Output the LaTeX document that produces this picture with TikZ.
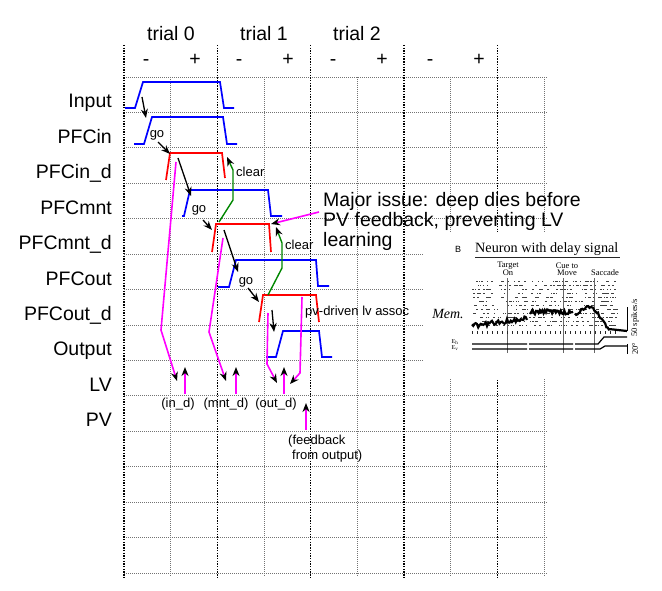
\documentclass[tikz,border=0pt]{standalone}
\usepackage{fontspec}
\setmainfont{Liberation Sans}
\newfontfamily\scanfont{Liberation Serif}
\usetikzlibrary{arrows.meta, positioning, calc}

\definecolor{pulseblue}{RGB}{0,0,255}
\definecolor{pulsered}{RGB}{255,0,0}
\definecolor{cleargreen}{RGB}{0,135,0}
\definecolor{lvpink}{RGB}{255,0,255}

\tikzset{
  rowlabel/.style={anchor=base east, inner sep=0pt, font=\fontsize{19.5}{22}\selectfont},
  headlabel/.style={anchor=base, inner sep=0pt, font=\fontsize{19.5}{22}\selectfont},
  notelabel/.style={inner sep=0pt, font=\fontsize{13}{15}\selectfont},
  trialline/.style={black, line width=1.4pt, dash pattern=on 1.4pt off 1.3pt},
  halfline/.style={black!55, line width=0.9pt, dash pattern=on 1pt off 1pt},
  rowline/.style={black!55, line width=0.9pt, dash pattern=on 1pt off 1pt},
  superficial/.style={pulseblue, line width=1.7pt},
  deep/.style={pulsered, line width=1.7pt},
  goarrow/.style={black, line width=1.3pt, -{Stealth[length=9pt,width=7pt]}},
  clearline/.style={cleargreen, line width=1.4pt, -{Stealth[length=9pt,width=7pt,color=black]}},
  lvline/.style={lvpink, line width=1.6pt, -{Stealth[length=9pt,width=7pt,color=black]}},
  scanline/.style={black!85, line width=0.6pt},
  scanlabel/.style={inner sep=0pt, font=\scanfont\fontsize{8.5}{7.5}\selectfont, align=center},
}

\begin{document}
\begin{tikzpicture}[x=1pt, y=-1pt]
    \useasboundingbox (0,0) rectangle (662,591);

    % Grid of rows and half trials
    \foreach \k in {0,...,14} \draw[rowline] (124,{77+35.43*\k}) -- (548,{77+35.43*\k});
    \foreach \k in {1,3,5,7,9} \draw[halfline] ({124+46.67*\k},77) -- ({124+46.67*\k},576);
    \foreach \k in {0,2,4,6,8} \draw[trialline] ({124+46.67*\k},45) -- ({124+46.67*\k},577);
    \fill[white] (424,232) rectangle (662,378);

    % Trial headers
    \node[headlabel] (trial0) at (171,41) {trial 0};
    \node[headlabel] (trial1) at (264,41) {trial 1};
    \node[headlabel] (trial2) at (357,41) {trial 2};

    \node[headlabel] (minus0) at (146,66) {-};
    \node[headlabel] (plus0) at (195,66) {+};
    \node[headlabel] (minus1) at (239,66) {-};
    \node[headlabel] (plus1) at (288,66) {+};
    \node[headlabel] (minus2) at (333,66) {-};
    \node[headlabel] (plus2) at (382,66) {+};
    \node[headlabel] (minus3) at (430,66) {-};
    \node[headlabel] (plus3) at (479,66) {+};

    % Layer names
    \node[rowlabel] (lblInput) at (112,107.9) {Input};
    \node[rowlabel] (lblPFCin) at (112,143.4) {PFCin};
    \node[rowlabel] (lblPFCind) at (112,178.8) {PFCin\_d};
    \node[rowlabel] (lblPFCmnt) at (112,214.2) {PFCmnt};
    \node[rowlabel] (lblPFCmntd) at (112,249.6) {PFCmnt\_d};
    \node[rowlabel] (lblPFCout) at (112,285.1) {PFCout};
    \node[rowlabel] (lblPFCoutd) at (112,320.5) {PFCout\_d};
    \node[rowlabel] (lblOutput) at (112,355.9) {Output};
    \node[rowlabel] (lblLV) at (112,391.4) {LV};
    \node[rowlabel] (lblPV) at (112,426.8) {PV};

    % Activity pulses
    \draw[superficial] (125,108) -- (135,108) -- (143,82) -- (220,82) -- (224,108) -- (234,108);
    \draw[superficial] (134,144) -- (144,144) -- (152,117) -- (223,117) -- (227,144) -- (237,144);
    \draw[deep] (166,180) -- (170,153) -- (222,153) -- (225,178);
    \draw[superficial] (182,216) -- (184,216) -- (190,190) -- (268,190) -- (271,216) -- (282,216);
    \draw[deep] (212,252) -- (216,224) -- (269,224) -- (271,252);
    \draw[superficial] (218,287) -- (229,287) -- (236,260) -- (316,260) -- (318,286) -- (329,286);
    \draw[deep] (259,322) -- (263,295) -- (316,295) -- (319,322);
    \draw[superficial] (266,357) -- (276,357) -- (283,331) -- (319,331) -- (322,357) -- (332,357);

    % Go signals
    \coordinate (goInS) at (142,97);    \coordinate (goInE) at (146,118);
    \coordinate (goInDS) at (158,142);  \coordinate (goInDE) at (170,154);
    \coordinate (goMntS) at (178,158);  \coordinate (goMntE) at (191,196);
    \coordinate (goMntDS) at (203,220); \coordinate (goMntDE) at (212,230);
    \coordinate (goOutS) at (224,230);  \coordinate (goOutE) at (238,272);
    \coordinate (goOutDS) at (248,288); \coordinate (goOutDE) at (259,302);
    \coordinate (goRespS) at (272,310); \coordinate (goRespE) at (274,332);
    \draw[goarrow] (goInS) -- (goInE);
    \draw[goarrow] (goInDS) -- (goInDE);
    \draw[goarrow] (goMntS) -- (goMntE);
    \draw[goarrow] (goMntDS) -- (goMntDE);
    \draw[goarrow] (goOutS) -- (goOutE);
    \draw[goarrow] (goOutDS) -- (goOutDE);
    \draw[goarrow] (goRespS) -- (goRespE);

    \node[notelabel] (go0) at (157,135) {go};
    \node[notelabel] (go1) at (199,210) {go};
    \node[notelabel] (go2) at (246,282) {go};

    % Clear signals
    \coordinate (clrInS) at (219,222);  \coordinate (clrInE) at (227,157);
    \coordinate (clrMntS) at (268,295); \coordinate (clrMntE) at (276,227);
    \draw[clearline] (clrInS) -- (233,200) -- (233,170) -- (clrInE);
    \draw[clearline] (clrMntS) -- (282,268) -- (282,243) -- (clrMntE);
    \node[notelabel, anchor=west] (clear0) at (236,172) {clear};
    \node[notelabel, anchor=west] (clear1) at (285,245) {clear};
    \node[notelabel, anchor=west] (assoc) at (305,312) {pv-driven lv assoc};

    % Deep layers into LV, PV feedback
    \coordinate (lvInS) at (176,162);   \coordinate (lvInE) at (177,381);
    \coordinate (lvMntS) at (223,238);  \coordinate (lvMntE) at (226,381);
    \coordinate (lvOutS) at (268,313);  \coordinate (lvOutE) at (277,383);
    \coordinate (lvRespS) at (302,297); \coordinate (lvRespE) at (290,384);
    \draw[lvline] (lvInS) -- (161,330) -- (lvInE);
    \draw[lvline] (lvMntS) -- (209,332) -- (lvMntE);
    \draw[lvline] (lvOutS) -- (267,364) -- (lvOutE);
    \draw[lvline] (lvRespS) -- (300,373) -- (lvRespE);

    \coordinate (upInS) at (185,394);  \coordinate (upInE) at (185,367);
    \coordinate (upMntS) at (236,394); \coordinate (upMntE) at (236,367);
    \coordinate (upOutS) at (284,394); \coordinate (upOutE) at (284,367);
    \coordinate (pvFbS) at (306,430);  \coordinate (pvFbE) at (306,403);
    \draw[lvline] (upInS) -- (upInE);
    \draw[lvline] (upMntS) -- (upMntE);
    \draw[lvline] (upOutS) -- (upOutE);
    \draw[lvline] (pvFbS) -- (pvFbE);

    \node[notelabel] (lvIn) at (178,404) {(in\_d)};
    \node[notelabel] (lvMnt) at (226,404) {(mnt\_d)};
    \node[notelabel] (lvOut) at (276,404) {(out\_d)};
    \node[notelabel, anchor=north west, align=left] (pvFb) at (288,435)
        {(feedback\\\hspace*{4pt}from output)};

    % Issue note
    \node[inner sep=0pt, anchor=north west, align=left, font=\fontsize{19.5}{20}\selectfont]
        (issue) at (323,192.5) {Major issue: deep dies before\\PV feedback, preventing LV\\learning};
    \coordinate (issueS) at (319,212); \coordinate (issueE) at (271,224);
    \draw[lvline] (issueS) -- (issueE);

    % Recorded neuron (delay signal)
    \node[inner sep=0pt, font=\fontsize{9}{10}\selectfont] (figB) at (458,249) {B};
    \node[inner sep=0pt, anchor=base west, font=\scanfont\fontsize{14.2}{16}\selectfont]
        (figTitle) at (475,253) {Neuron with delay signal};
    \draw[scanline, line width=0.9pt] (475,257) -- (620,257);
    \node[scanlabel] (evTarget) at (508,269) {Target\\On};
    \node[scanlabel] (evCue) at (567,269) {Cue to\\Move};
    \node[scanlabel] (evSacc) at (605,273) {Saccade};
    \node[inner sep=0pt, font=\scanfont\itshape\fontsize{14}{15}\selectfont] (figMem) at (448,314) {Mem.};

    \pgfmathsetseed{17}
    \foreach \px/\pw in {472/55, 529/44, 574/43} {
      \foreach \r in {0,...,11} {
        \foreach \d in {1,...,15} {
          \pgfmathsetmacro\dotx{\px+\pw*rnd}
          \fill[black!75] (\dotx,{281+4*\r}) rectangle ++(1.4,1.1);
        }
      }
    }
    \foreach \ex in {507,563,594} \draw[scanline, black!60] (\ex,278) -- (\ex,353);
    \draw[black, line width=2.2pt] plot[domain=472:527, samples=45] (\x,{326-0.14*(\x-472)+2.4*rand});
    \draw[black, line width=2.2pt] plot[domain=530:573, samples=36] (\x,{312+2.8*rand});
    \draw[black, line width=2.2pt] plot[domain=575:610, samples=30]
        (\x,{(\x<592 ? 314-0.5*(\x-575) : 305.5+1.4*(\x-592)) + 2*rand}) -- (627,331);
    \foreach \tx in {472,477,...,527} \draw[scanline] (\tx,331) -- (\tx,334);
    \foreach \tx in {530,535,...,573} \draw[scanline] (\tx,331) -- (\tx,334);
    \foreach \tx in {575,580,...,617} \draw[scanline] (\tx,331) -- (\tx,334);

    % Eye position traces and scale bars
    \node[inner sep=0pt, font=\scanfont\fontsize{6}{6}\selectfont] (figEh) at (455,342) {E\textsubscript{h}};
    \node[inner sep=0pt, font=\scanfont\fontsize{6}{6}\selectfont] (figEv) at (455,348) {E\textsubscript{v}};
    \draw[black, line width=1.2pt] (472,344) -- (527,344) (529,344) -- (573,344) (575,344) -- (598,344) -- (604,337) -- (627,337);
    \draw[black, line width=1.2pt] (472,349) -- (527,349) (529,349) -- (573,349) (575,349) -- (600,349) -- (605,346) -- (627,346);
    \draw[black, line width=0.9pt] (627,307) -- (627,331);
    \draw[black, line width=0.9pt] (627,344) -- (627,354);
    \node[scanlabel, rotate=90] (figRate) at (635,318) {50 spikes/s};
    \node[scanlabel, rotate=90] (figDeg) at (635,349) {20\textdegree};
\end{tikzpicture}
\end{document}
